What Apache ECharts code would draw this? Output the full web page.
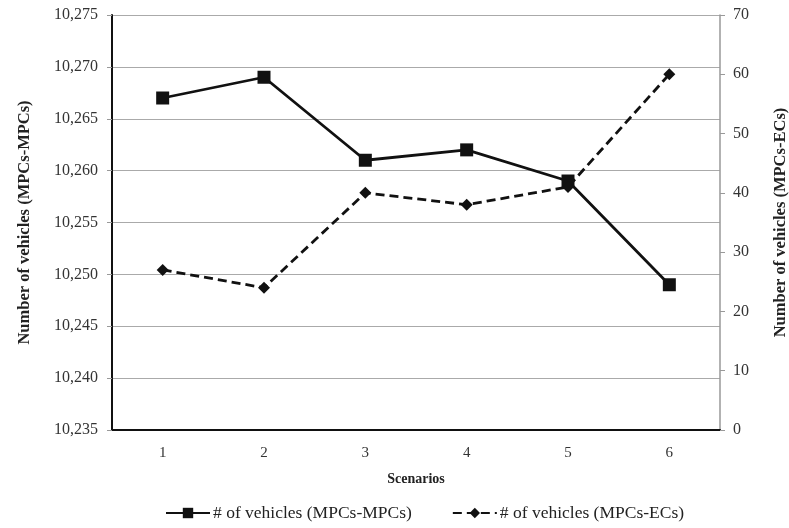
<!DOCTYPE html>
<html>
<head>
<meta charset="utf-8">
<script src="https://cdn.jsdelivr.net/npm/echarts@6/dist/echarts.min.js"></script>
<style>
  html, body { margin: 0; padding: 0; background: #fff; }
  #chart { width: 789px; height: 528px; }
</style>
</head>
<body>
<div id="chart"></div>
<script>
// Scenario labels and vehicle counts per configuration
const scenarios = ['1', '2', '3', '4', '5', '6'];
const vehiclesMpcMpc = [10267, 10269, 10261, 10262, 10259, 10249];
const vehiclesMpcEc = [27, 24, 40, 38, 41, 60];

const seriesNames = ['# of vehicles (MPCs-MPCs)', '# of vehicles (MPCs-ECs)'];
const font = 'Liberation Serif, Times New Roman, serif';

const chart = echarts.init(document.getElementById('chart'));
chart.setOption({
  animation: false,
  textStyle: { fontFamily: font },
  grid: { left: 112, right: 69, top: 15, bottom: 98, outerBoundsMode: 'none', containLabel: false },
  legend: {
    bottom: 1,
    left: 160,
    itemWidth: 44,
    itemHeight: 13,
    itemGap: 40,
    textStyle: { fontFamily: font, fontSize: 17.5, color: '#222', padding: [0, 0, 0, -2] },
    data: seriesNames
  },
  xAxis: {
    type: 'category',
    data: scenarios,
    boundaryGap: true,
    name: 'Scenarios',
    nameLocation: 'middle',
    nameGap: 42,
    nameTextStyle: { fontFamily: font, fontWeight: 'bold', fontSize: 14, color: '#222' },
    axisLine: { lineStyle: { color: '#111', width: 2 } },
    axisTick: { show: false },
    axisLabel: { fontFamily: font, fontSize: 15, color: '#333', margin: 16 }
  },
  yAxis: [
    {
      type: 'value',
      min: 10235,
      max: 10275,
      interval: 5,
      name: 'Number of vehicles (MPCs-MPCs)',
      nameLocation: 'middle',
      nameGap: 79,
      nameTextStyle: { fontFamily: font, fontWeight: 'bold', fontSize: 16.5, color: '#222' },
      axisLine: { show: true, lineStyle: { color: '#111', width: 2 } },
      axisTick: { show: true, length: 5, lineStyle: { color: '#999' } },
      axisLabel: {
        fontFamily: font, fontSize: 16, color: '#333', margin: 14,
        formatter: v => v.toLocaleString('en-US')
      },
      splitLine: { show: true, lineStyle: { color: '#aaa', width: 1 } }
    },
    {
      type: 'value',
      min: 0,
      max: 70,
      interval: 10,
      name: 'Number of vehicles (MPCs-ECs)',
      nameLocation: 'middle',
      nameGap: 52,
      nameRotate: 90,
      nameTextStyle: { fontFamily: font, fontWeight: 'bold', fontSize: 16.5, color: '#222' },
      axisLine: { show: true, lineStyle: { color: '#999', width: 1.5 } },
      axisTick: { show: true, length: 5, lineStyle: { color: '#999' } },
      axisLabel: { fontFamily: font, fontSize: 16, color: '#333', margin: 13 },
      splitLine: { show: false }
    }
  ],
  series: [
    {
      name: seriesNames[0],
      type: 'line',
      yAxisIndex: 0,
      data: vehiclesMpcMpc,
      symbol: 'rect',
      symbolSize: 13,
      itemStyle: { color: '#111' },
      lineStyle: { color: '#111', width: 2.8 }
    },
    {
      name: seriesNames[1],
      type: 'line',
      yAxisIndex: 1,
      data: vehiclesMpcEc,
      symbol: 'diamond',
      symbolSize: 12,
      itemStyle: { color: '#111' },
      lineStyle: { color: '#111', width: 2.8, type: [9, 5] }
    }
  ]
});
</script>
</body>
</html>
